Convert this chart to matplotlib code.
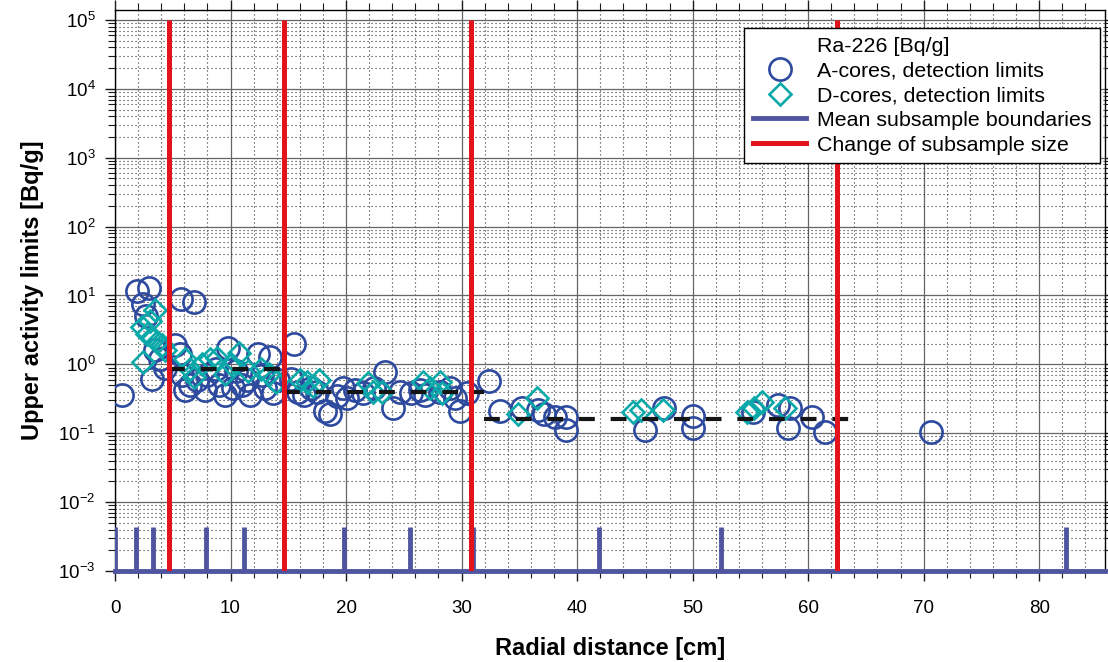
import numpy as np
import matplotlib
matplotlib.use("Agg")
import matplotlib.pyplot as plt
from matplotlib.lines import Line2D
from matplotlib.ticker import LogLocator, MultipleLocator, NullFormatter

plt.rcParams['font.family'] = ['Liberation Sans', 'DejaVu Sans']
plt.rcParams['mathtext.fontset'] = 'custom'
plt.rcParams['mathtext.rm'] = 'Liberation Sans'

# A-cores, detection limits
a_x = [0.6, 1.9, 2.9, 2.4, 2.7, 5.7, 6.8,
       3.2, 3.5, 3.9, 4.3, 5.2, 5.6, 5.8, 6.1, 6.5, 7.1, 7.8, 8.0, 8.7, 9.0, 9.5, 9.8,
       10.2, 10.5, 11.0, 11.4, 11.7, 12.4, 12.7, 13.0, 13.4, 13.7, 14.1,
       15.5, 15.2, 15.8, 16.4, 17.0, 17.5, 18.2, 18.6, 19.2, 19.7, 20.1, 20.8, 21.5,
       22.4, 23.4, 24.1, 24.7, 25.6, 26.4, 26.8, 28.1, 29.0, 29.4, 29.9, 30.5,
       32.4, 33.3, 35.2, 36.6, 37.1, 38.1, 39.0, 39.0,
       45.9, 47.5, 50.0, 50.0, 55.2, 57.4, 58.3, 58.4, 60.3, 61.5, 70.6]
a_y = [0.36, 11.5, 13, 7.5, 5.0, 9.0, 8.0,
       0.62, 1.6, 1.2, 0.9, 1.9, 1.4, 0.7, 0.42, 0.5, 0.6, 0.42, 0.7, 0.85, 0.5, 0.36, 1.7,
       0.45, 0.8, 0.5, 0.6, 0.36, 1.4, 0.7, 0.45, 1.3, 0.38, 0.6,
       2.0, 0.62, 0.4, 0.36, 0.45, 0.4, 0.21, 0.19, 0.35, 0.45, 0.33, 0.42, 0.38,
       0.45, 0.78, 0.23, 0.4, 0.38, 0.42, 0.36, 0.4, 0.45, 0.33, 0.21, 0.38,
       0.57, 0.21, 0.23, 0.22, 0.19, 0.17, 0.17, 0.11,
       0.11, 0.23, 0.18, 0.12, 0.2, 0.26, 0.12, 0.23, 0.17, 0.105, 0.105]

# D-cores, detection limits
d_x = [2.4, 2.3, 2.8, 3.2, 3.6, 3.5, 4.1, 4.3, 3.0,
       6.1, 6.5, 6.8, 7.5, 8.2, 8.8, 9.5, 10.0, 10.7, 11.5, 12.6, 13.3, 13.9,
       16.0, 16.6, 17.1, 17.7, 21.9, 22.3, 23.1, 26.7, 27.3, 28.1, 28.3,
       34.9, 36.5, 44.8, 45.5, 47.4, 54.7, 55.3, 56.0, 58.0]
d_y = [1.1, 3.5, 2.8, 2.5, 2.1, 6.2, 1.9, 1.6, 4.2,
       1.2, 0.85, 0.65, 1.0, 1.2, 1.25, 0.73, 1.0, 1.45, 0.8, 0.85, 0.72, 0.55,
       0.6, 0.55, 0.48, 0.6, 0.54, 0.4, 0.4, 0.55, 0.46, 0.55, 0.38,
       0.19, 0.33, 0.2, 0.22, 0.22, 0.2, 0.23, 0.28, 0.23]

# mean subsample boundaries and changes of subsample size
boundaries = [0.0, 1.8, 3.3, 4.7, 7.9, 11.2, 14.6, 19.8, 25.5, 31.0, 41.9, 52.5, 62.5, 82.3]
size_changes = [4.7, 14.6, 30.8, 62.5]

# mean detection limit per size class (dashed)
level_start = [4.7, 14.6, 31.9]
level_end = [14.6, 31.9, 63.6]
level_val = [0.86, 0.40, 0.16]

c_a = '#2e4a9e'
c_d = '#0aa9a9'
c_blue = '#5055a0'
c_red = '#e3131b'

fig = plt.figure(figsize=(11.08, 6.62), dpi=100)
ax = fig.add_axes([0.1038, 0.1375, 0.8935, 0.8474])
ax.set_yscale('log')
ax.set_xlim(0, 85.7)
ax.set_ylim(1e-3, 10**5.145)

# grid
ax.xaxis.set_major_locator(MultipleLocator(10))
ax.xaxis.set_minor_locator(MultipleLocator(2))
ax.yaxis.set_major_locator(LogLocator(base=10, numticks=20))
ax.yaxis.set_minor_locator(LogLocator(base=10, subs=np.arange(2, 10), numticks=20))
ax.yaxis.set_minor_formatter(NullFormatter())
ax.grid(which='major', color='0.4', lw=0.9, ls='-')
ax.grid(which='minor', color='0.2', lw=0.8, ls=(0, (1, 2.6)))
ax.set_axisbelow(True)

ax.plot(a_x, a_y, ls='none', marker='o', ms=16, mfc='none', mec=c_a, mew=1.9, zorder=3)
ax.plot(d_x, d_y, ls='none', marker='D', ms=11, mfc='none', mec=c_d, mew=1.9, zorder=4)

for x0, x1, v in zip(level_start, level_end, level_val):
    ax.plot([x0, x1], [v, v], color='#151515', lw=3, dashes=(3.8, 3.8), zorder=5)

ax.vlines(boundaries, 1e-3, 0.0044, color=c_blue, lw=3.5, zorder=6)
ax.axhline(1e-3, color=c_blue, lw=3.5, zorder=6, clip_on=False)
ax.vlines(size_changes, 1e-3, 1e5, color=c_red, lw=3.6, zorder=7)

ax.tick_params(which='both', direction='out', top=True, right=True, labelsize=13.5, color='0.1')
ax.tick_params(which='major', length=7, width=1)
ax.tick_params(which='minor', length=5, width=0.8)
ax.tick_params(axis='x', pad=14)
ax.tick_params(axis='y', pad=7)
for s in ax.spines.values():
    s.set_linewidth(1)

ax.set_xlabel('Radial distance [cm]', fontsize=17, fontweight='bold', labelpad=14)
ax.set_ylabel('Upper activity limits [Bq/g]', fontsize=17, fontweight='bold', labelpad=10)

handles = [
    Line2D([], [], ls='none', marker=None),
    Line2D([], [], ls='none', marker='o', ms=16, mfc='none', mec=c_a, mew=1.9),
    Line2D([], [], ls='none', marker='D', ms=11, mfc='none', mec=c_d, mew=1.9),
    Line2D([], [], color=c_blue, lw=3.5),
    Line2D([], [], color=c_red, lw=3.6),
]
labels = ['Ra-226 [Bq/g]', 'A-cores, detection limits', 'D-cores, detection limits',
          'Mean subsample boundaries', 'Change of subsample size']
leg = ax.legend(handles, labels, loc='upper right', bbox_to_anchor=(0.995, 0.968),
                borderaxespad=0, fontsize=15.4, frameon=True, fancybox=False,
                edgecolor='black', framealpha=1, handlelength=2.5,
                labelspacing=0.27, borderpad=0.4, handletextpad=0.5)
leg.get_frame().set_linewidth(1)
leg.set_zorder(10)

fig.savefig('out.png', dpi=100)
